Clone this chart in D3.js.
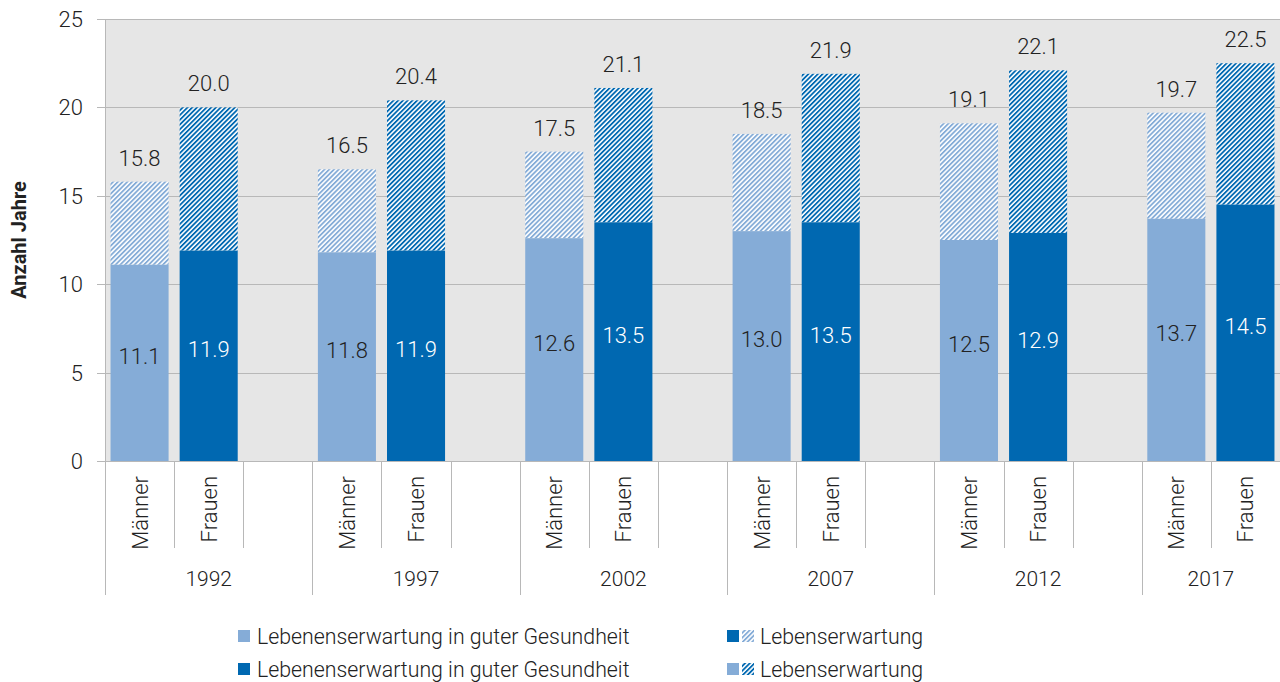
<!DOCTYPE html>
<html>
<head>
<meta charset="utf-8">
<script src="https://cdn.jsdelivr.net/npm/d3@7/dist/d3.min.js"></script>
<style>
  html, body { margin: 0; padding: 0; background: #ffffff; }
  svg { display: block; font-family: "Roboto Light", Roboto, "Noto Sans", sans-serif; }
  .bold { font-family: Roboto, "Noto Sans", sans-serif; }
</style>
</head>
<body>
<svg id="chart" width="1280" height="682"></svg>
<script>
// ---- data ----
const years = ["1992", "1997", "2002", "2007", "2012", "2017"];
const sexes = ["Männer", "Frauen"];
const menHealthy = [11.1, 11.8, 12.6, 13.0, 12.5, 13.7];
const menTotal = [15.8, 16.5, 17.5, 18.5, 19.1, 19.7];
const womenHealthy = [11.9, 11.9, 13.5, 13.5, 12.9, 14.5];
const womenTotal = [20.0, 20.4, 21.1, 21.9, 22.1, 22.5];
const yTicks = [0, 5, 10, 15, 20, 25];
const yTitle = "Anzahl Jahre";
const legendHealthy = "Lebenenserwartung in guter Gesundheit";
const legendTotal = "Lebenserwartung";

(function () {
// ---- style ----
const colLight = "#85acd7";
const colDark = "#0068b1";
const bgGray = "#e6e6e6";
const lineGray = "#b8b8b8";
const textCol = "#222222";
const fs = 22;

const svg = d3.select("#chart");
const pLeft = 105, pRight = 1280, pTop = 19, pBottom = 461;

const slots = [];
years.forEach((yr, i) => {
  slots.push({ key: yr + "|M", year: yr, kind: "M", i });
  slots.push({ key: yr + "|F", year: yr, kind: "F", i });
  if (i < years.length - 1) slots.push({ key: yr + "|gap", year: yr, kind: "gap", i });
});

const xSlot = d3.scaleBand().domain(slots.map(s => s.key)).range([pLeft, pRight]).padding(0);
const xBar = d3.scaleBand().domain(slots.map(s => s.key)).range([pLeft, pRight])
  .paddingInner(0.16).paddingOuter(0.08);
const y = d3.scaleLinear().domain([0, 25]).range([pBottom, pTop]);

const defs = svg.append("defs");
function hatch(id, color) {
  const p = defs.append("pattern").attr("id", id)
    .attr("patternUnits", "userSpaceOnUse")
    .attr("width", 3.35).attr("height", 10)
    .attr("patternTransform", "rotate(45)");
  p.append("rect").attr("width", 3.35).attr("height", 10).attr("fill", "#ffffff");
  p.append("rect").attr("width", 1.8).attr("height", 10).attr("fill", color);
}
hatch("hLight", colLight);
hatch("hDark", colDark);

svg.append("rect").attr("x", pLeft + 1).attr("y", pTop)
  .attr("width", pRight - pLeft - 1).attr("height", pBottom - pTop).attr("fill", bgGray);

svg.append("g").selectAll("line").data(yTicks).join("line")
  .attr("x1", pLeft - 8).attr("x2", pRight)
  .attr("y1", d => Math.round(y(d)) + 0.5).attr("y2", d => Math.round(y(d)) + 0.5)
  .attr("stroke", lineGray).attr("stroke-width", 1);

svg.append("g").selectAll("text").data(yTicks).join("text")
  .attr("x", 83).attr("y", d => y(d))
  .attr("dy", "0.36em").attr("text-anchor", "end")
  .attr("font-size", fs).attr("font-weight", 300).attr("fill", textCol)
  .text(d => d);

svg.append("text").attr("class", "bold")
  .attr("transform", "translate(26," + 240 + ") rotate(-90)")
  .attr("text-anchor", "middle").attr("font-size", 20).attr("font-weight", 700)
  .attr("fill", textCol).text(yTitle);

const barData = [];
years.forEach((yr, i) => {
  barData.push({ key: yr + "|M", healthy: menHealthy[i], total: menTotal[i], kind: "M" });
  barData.push({ key: yr + "|F", healthy: womenHealthy[i], total: womenTotal[i], kind: "F" });
});

const gBars = svg.append("g");
gBars.selectAll("rect.hatch").data(barData).join("rect").attr("class", "hatch")
  .attr("x", d => xBar(d.key)).attr("width", xBar.bandwidth())
  .attr("y", d => y(d.total)).attr("height", d => y(d.healthy) - y(d.total))
  .attr("fill", d => d.kind === "M" ? "url(#hLight)" : "url(#hDark)");
gBars.selectAll("rect.solid").data(barData).join("rect").attr("class", "solid")
  .attr("x", d => xBar(d.key)).attr("width", xBar.bandwidth())
  .attr("y", d => y(d.healthy)).attr("height", d => y(0) - y(d.healthy))
  .attr("fill", d => d.kind === "M" ? colLight : colDark);

gBars.selectAll("text.in").data(barData).join("text").attr("class", "in")
  .attr("x", d => xBar(d.key) + xBar.bandwidth() / 2)
  .attr("y", d => y(d.healthy / 2)).attr("dy", "0.05em")
  .attr("text-anchor", "middle").attr("font-size", fs).attr("font-weight", 300)
  .attr("fill", d => d.kind === "M" ? textCol : "#ffffff")
  .text(d => d.healthy.toFixed(1));
gBars.selectAll("text.top").data(barData).join("text").attr("class", "top")
  .attr("x", d => xBar(d.key) + xBar.bandwidth() / 2)
  .attr("y", d => y(d.total) - 16)
  .attr("text-anchor", "middle").attr("font-size", fs).attr("font-weight", 300)
  .attr("fill", textCol)
  .text(d => d.total.toFixed(1));

svg.append("line").attr("x1", pLeft + 0.5).attr("x2", pLeft + 0.5)
  .attr("y1", pTop).attr("y2", 595).attr("stroke", lineGray);

const gx = svg.append("g");
gx.selectAll("line").data(slots.filter(s => !(s.kind === "M" && s.i === 0))).join("line")
  .attr("x1", d => Math.round(xSlot(d.key)) + 0.5).attr("x2", d => Math.round(xSlot(d.key)) + 0.5)
  .attr("y1", pBottom).attr("y2", d => d.kind === "M" ? 595 : 548)
  .attr("stroke", lineGray);

gx.selectAll("text.sex").data(slots.filter(s => s.kind !== "gap")).join("text").attr("class", "sex")
  .attr("transform", d => "translate(" + (xSlot(d.key) + xSlot.bandwidth() / 2 + 8) + ",476) rotate(-90)")
  .attr("text-anchor", "end").attr("font-size", fs).attr("font-weight", 300)
  .attr("fill", textCol)
  .text(d => d.kind === "M" ? sexes[0] : sexes[1]);

gx.selectAll("text.year").data(years).join("text").attr("class", "year")
  .attr("x", (yr, i) => {
    const s = slots.filter(d => d.i === i);
    const a = xSlot(s[0].key), b = xSlot(s[s.length - 1].key) + xSlot.bandwidth();
    return (a + b) / 2;
  })
  .attr("y", 578).attr("dy", "0.36em")
  .attr("text-anchor", "middle").attr("font-size", 21).attr("font-weight", 300)
  .attr("fill", textCol).text(d => d);

const lg = svg.append("g");
const legendRows = [
  { y: 636, c1: colLight, c2solid: colDark, c2hatch: "url(#hLight)" },
  { y: 669, c1: colDark, c2solid: colLight, c2hatch: "url(#hDark)" }
];
legendRows.forEach(r => {
  lg.append("rect").attr("x", 238).attr("y", r.y - 6).attr("width", 12).attr("height", 12).attr("fill", r.c1);
  lg.append("text").attr("x", 257).attr("y", r.y).attr("dy", "0.36em")
    .attr("font-size", 21.3).attr("font-weight", 300).attr("fill", textCol).text(legendHealthy);
  lg.append("rect").attr("x", 727).attr("y", r.y - 6).attr("width", 12).attr("height", 12).attr("fill", r.c2solid);
  lg.append("rect").attr("x", 742).attr("y", r.y - 6).attr("width", 12).attr("height", 12).attr("fill", r.c2hatch);
  lg.append("text").attr("x", 760).attr("y", r.y).attr("dy", "0.36em")
    .attr("font-size", 21.3).attr("font-weight", 300).attr("fill", textCol).text(legendTotal);
});
})();
</script>
</body>
</html>
